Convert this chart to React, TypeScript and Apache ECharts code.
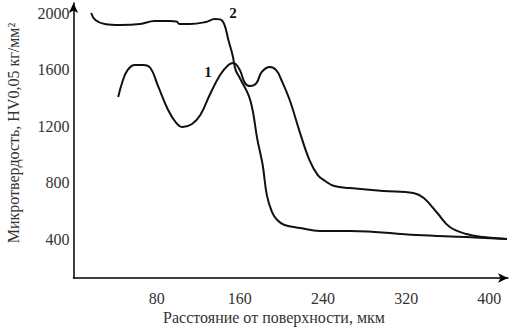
import React, { useEffect, useRef } from "react";
import * as echarts from "echarts";

const xTicks = [80, 160, 240, 320, 400];
const yTicks = [400, 800, 1200, 1600, 2000];

const curve1X = [43, 47, 52, 59, 67, 74, 81, 91, 99, 105, 114, 122, 131, 141, 149, 154, 160, 165, 170, 176, 181, 189, 195, 200, 208, 218, 227, 235, 242, 251, 266, 298, 327, 337, 350, 362, 378, 394, 417];
const curve1Y = [1405, 1512, 1596, 1632, 1632, 1611, 1490, 1313, 1221, 1193, 1214, 1278, 1420, 1561, 1632, 1646, 1596, 1504, 1483, 1504, 1582, 1618, 1596, 1526, 1384, 1150, 959, 853, 811, 775, 761, 740, 726, 690, 584, 485, 435, 414, 400];

const curve2X = [17, 21, 30, 45, 64, 78, 93, 99, 102, 112, 127, 136, 141, 145, 149, 153, 156, 160, 170, 177, 182, 186, 191, 196, 203, 218, 237, 266, 330, 378, 417];
const curve2Y = [2000, 1950, 1922, 1915, 1922, 1943, 1943, 1940, 1922, 1922, 1936, 1957, 1955, 1922, 1809, 1703, 1596, 1540, 1384, 1100, 924, 711, 591, 535, 499, 478, 457, 457, 428, 414, 400];

const font = "Liberation Serif";

export default function App() {
  const ref = useRef<HTMLDivElement>(null);
  useEffect(() => {
    const chart = echarts.init(ref.current!, null, { renderer: "svg" });
    const line = (xs: number[], ys: number[]) => ({
      type: "line",
      data: xs.map((x, i) => [x, ys[i]]),
      smooth: 0.4,
      showSymbol: false,
      lineStyle: { color: "#111", width: 2 },
      silent: true,
    });
    const labelStyle = {
      margin: 12,
      fontFamily: font,
      fontSize: 16,
      color: "#333",
      formatter: (v: number) => String(v),
    };
    chart.setOption({
      animation: false,
      backgroundColor: "#fff",
      textStyle: { fontFamily: font },
      grid: { left: 73.5, right: 6, top: 3, bottom: 49 },
      xAxis: {
        type: "value",
        min: 0,
        max: 418,
        axisLine: { show: true, lineStyle: { color: "#000", width: 1.5 }, symbol: ["none", "arrow"], symbolSize: [7, 10] },
        axisTick: { show: false },
        splitLine: { show: false },
        axisLabel: { ...labelStyle, customValues: xTicks, textStyle: { fontFamily: font } },
      },
      yAxis: {
        type: "value",
        min: 124,
        max: 2071,
        axisLine: { show: true, lineStyle: { color: "#000", width: 1.5 }, symbol: ["none", "arrow"], symbolSize: [7, 10] },
        axisTick: { show: false },
        splitLine: { show: false },
        axisLabel: { ...labelStyle, margin: 4, customValues: yTicks },
      },
      series: [line(curve1X, curve1Y), line(curve2X, curve2Y)],
      graphic: [
        { type: "text", x: 208, y: 72, style: { text: "1", font: `bold 15px ${font}`, fill: "#111", textAlign: "center", textVerticalAlign: "middle" } },
        { type: "text", x: 233, y: 13, style: { text: "2", font: `bold 15px ${font}`, fill: "#111", textAlign: "center", textVerticalAlign: "middle" } },
        { type: "text", x: 274, y: 317, style: { text: "Расстояние от поверхности, мкм", font: `16px ${font}`, fill: "#333", textAlign: "center", textVerticalAlign: "middle" } },
        { type: "text", x: 13, y: 133, rotation: Math.PI / 2, style: { text: "Микротвердость, HV0,05 кг/мм²", font: `16px ${font}`, fill: "#333", textAlign: "center", textVerticalAlign: "middle" } },
      ],
    });
    return () => chart.dispose();
  }, []);
  return <div ref={ref} style={{ width: 514, height: 327, position: "fixed", left: 0, top: 0 }} />;
}
